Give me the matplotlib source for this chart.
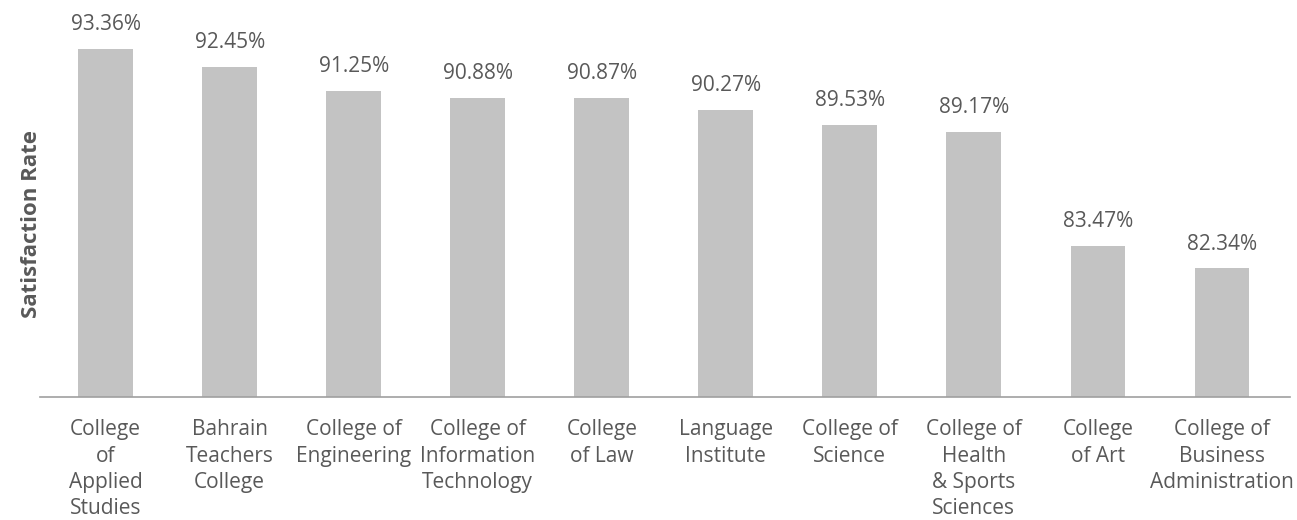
import matplotlib.pyplot as plt

colleges = [
    "College\nof\nApplied\nStudies",
    "Bahrain\nTeachers\nCollege",
    "College of\nEngineering",
    "College of\nInformation\nTechnology",
    "College\nof Law",
    "Language\nInstitute",
    "College of\nScience",
    "College of\nHealth\n& Sports\nSciences",
    "College\nof Art",
    "College of\nBusiness\nAdministration",
]
rates = [93.36, 92.45, 91.25, 90.88, 90.87, 90.27, 89.53, 89.17, 83.47, 82.34]

plt.rcParams['font.family'] = ['Open Sans', 'DejaVu Sans']
txt = '#595959'

fig = plt.figure(figsize=(12.97, 5.2), dpi=100)
ax = fig.add_axes([40 / 1297, 123 / 520, 1250 / 1297, 377 / 520])

x = list(range(len(rates)))
ax.bar(x, rates, width=0.44, color='#C3C3C3', zorder=2)
for xi, r in zip(x, rates):
    ax.text(xi, r + 0.7, f'{r:.2f}%', ha='center', va='bottom',
            fontsize=15, color=txt)

ax.set_ylim(75.9, 94.79)
ax.set_xlim(-0.53, 9.55)
ax.set_xticks(x)
ax.set_xticklabels(colleges, fontsize=15, color=txt, linespacing=1.33, va='top')
ax.tick_params(axis='x', length=0, pad=16)
ax.set_yticks([])
for s in ['top', 'right', 'left']:
    ax.spines[s].set_visible(False)
ax.spines['bottom'].set_color('#A0A0A0')
ax.spines['bottom'].set_linewidth(1.2)

fig.text(32 / 1297, 1 - 224 / 520, 'Satisfaction Rate', rotation=90,
         ha='center', va='center', fontsize=16, fontweight='bold', color=txt)

fig.savefig('out.png', dpi=100)
